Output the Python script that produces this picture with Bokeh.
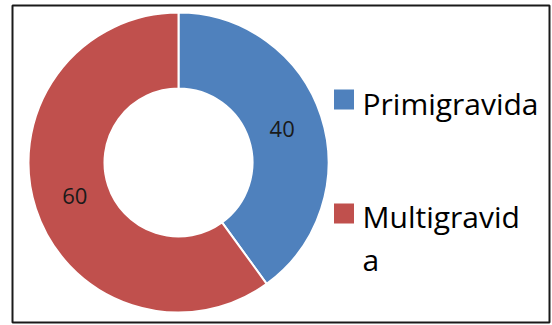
import math
from bokeh.plotting import figure
from bokeh.models import Range1d, ColumnDataSource
from bokeh.core.properties import value
from bokeh.embed import file_html
from bokeh.resources import INLINE

categories = ["Primigravida", "Multigravida"]
legend_labels = ["Primigravida", "Multigravid\na"]
values = [40, 60]
colors = ["#4F81BD", "#C0504D"]

W, H = 552, 325
p = figure(width=W, height=H, output_backend="svg", toolbar_location=None,
           x_range=Range1d(0, W), y_range=Range1d(0, H), min_border=0)
p.axis.visible = False
p.grid.visible = False
p.outline_line_color = None
p.background_fill_color = "white"
p.border_fill_color = "white"

# chart border
p.quad(left=[12], right=[549], bottom=[H - 322], top=[H - 5],
       fill_color=None, line_color="#1a1a1a", line_width=2)

cx, cy = 178, H - 162
r_out, r_in = 150, 74
total = sum(values)
starts, ends, lx, ly = [], [], [], []
acc = 0
for v in values:
    a0 = math.pi / 2 - 2 * math.pi * acc / total
    a1 = math.pi / 2 - 2 * math.pi * (acc + v) / total
    starts.append(a0)
    ends.append(a1)
    mid = (a0 + a1) / 2
    rl = 109
    lx.append(cx + rl * math.cos(mid))
    ly.append(cy + rl * math.sin(mid))
    acc += v

src = ColumnDataSource(dict(start=starts, end=ends, color=colors,
                            lx=lx, ly=ly, txt=[str(v) for v in values]))
p.annular_wedge(x=cx, y=cy, inner_radius=r_in, outer_radius=r_out,
                start_angle="start", end_angle="end", direction="clock",
                fill_color="color", line_color="white", line_width=2, source=src)
p.text(x="lx", y="ly", text="txt", source=src, text_align="center",
       text_baseline="middle", text_font=value("Open Sans"),
       text_font_size="22px", text_color="#1a1a1a")

# legend
leg_sq_y = [H - 99, H - 213]
leg_txt_y = [H - 82, H - 195]
p.rect(x=[343.5] * 2, y=leg_sq_y, width=20, height=20, fill_color=colors,
       line_color=None)
p.text(x=[362] * 2, y=leg_txt_y, text=legend_labels, text_align="left",
       text_baseline="top", text_font=value("Open Sans"), text_font_size="30px",
       text_color="black", text_line_height=1.06)

open("out.html", "w").write(file_html(p, INLINE))
